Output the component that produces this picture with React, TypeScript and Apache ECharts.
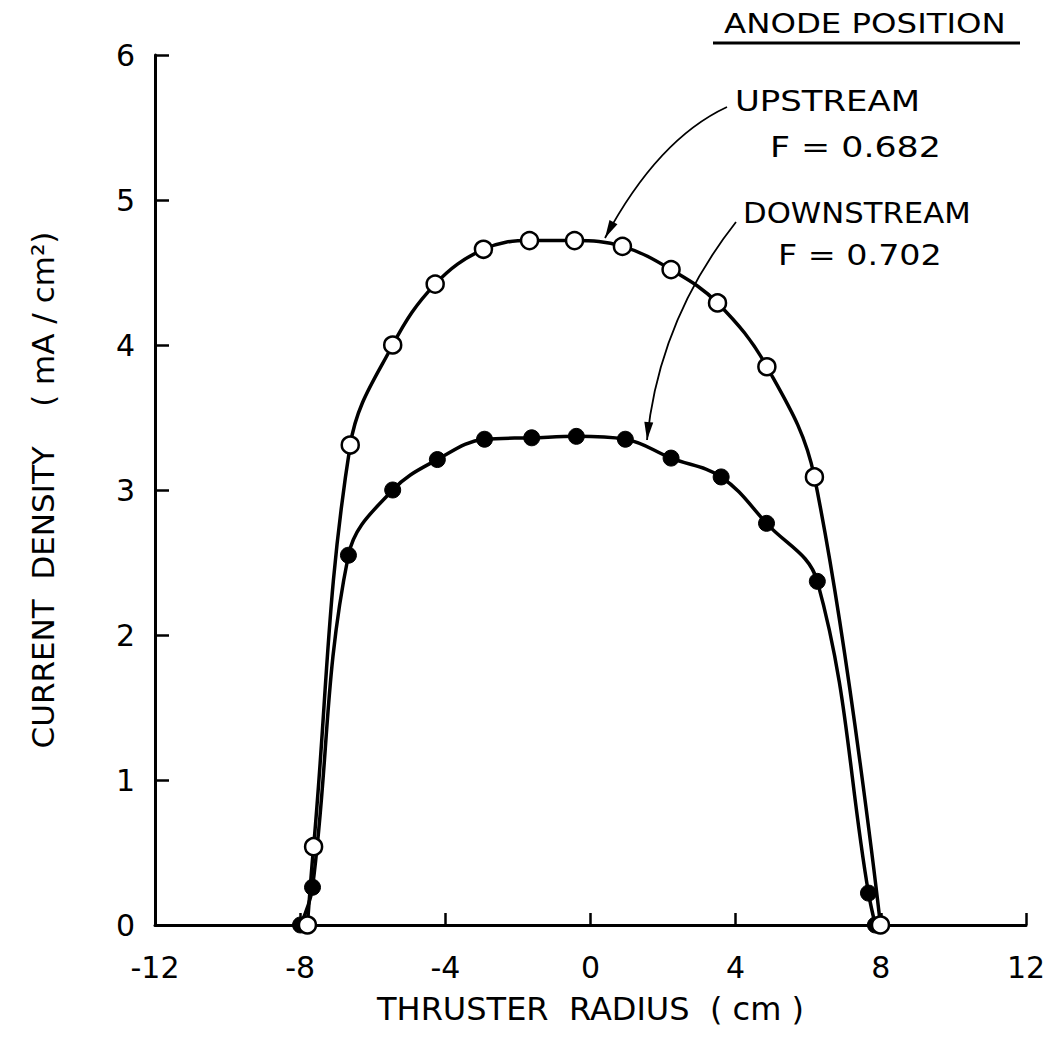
import React, { useEffect, useRef } from "react";
import * as echarts from "echarts";

// ---- data ----
const upstreamX = [-7.8, -7.63, -6.62, -5.45, -4.28, -2.95, -1.68, -0.44, 0.88, 2.22, 3.5, 4.86, 6.17, 7.99];
const upstreamY = [0, 0.54, 3.31, 4.0, 4.42, 4.66, 4.72, 4.72, 4.68, 4.52, 4.29, 3.85, 3.09, 0];

const downstreamX = [-7.99, -7.66, -6.67, -5.45, -4.22, -2.92, -1.62, -0.39, 0.96, 2.22, 3.6, 4.85, 6.25, 7.66, 7.85];
const downstreamY = [0, 0.26, 2.55, 3.0, 3.21, 3.35, 3.36, 3.37, 3.35, 3.22, 3.09, 2.77, 2.37, 0.22, 0];

const xTicks = { min: -12, max: 12, interval: 4 };
const yTicks = { min: 0, max: 6, interval: 1 };

const FONT = "DejaVu Sans";

function arrowHead(tip: number[], ctrl: number[], len: number, halfW: number) {
  const dx = tip[0] - ctrl[0];
  const dy = tip[1] - ctrl[1];
  const d = Math.sqrt(dx * dx + dy * dy);
  const ux = dx / d, uy = dy / d;
  const bx = tip[0] - ux * len, by = tip[1] - uy * len;
  return [
    [tip[0], tip[1]],
    [bx - uy * halfW, by + ux * halfW],
    [bx + uy * halfW, by - ux * halfW],
  ];
}

export default function App() {
  const ref = useRef<HTMLDivElement>(null);
  useEffect(() => {
    const chart = echarts.init(ref.current!, null, { renderer: "svg" });
    const up = upstreamX.map((x, i) => [x, upstreamY[i]]);
    const down = downstreamX.map((x, i) => [x, downstreamY[i]]);

    const upArrow = { p0: [727, 107], c: [658, 139], p2: [605, 238] };
    const downArrow = { p0: [736, 222], c: [659, 320], p2: [647, 440] };

    const textStyle = (fontSize: number) => ({ fill: "#000", fontSize, fontFamily: FONT });

    chart.setOption({
      animation: false,
      backgroundColor: "#fff",
      grid: { left: 155, right: 26, top: 55, bottom: 114 },
      xAxis: {
        type: "value",
        ...xTicks,
        name: "THRUSTER  RADIUS  ( cm )",
        nameLocation: "middle",
        nameGap: 68,
        nameTextStyle: { color: "#000", fontSize: 32, fontFamily: FONT },
        axisLine: { onZero: false, lineStyle: { color: "#000", width: 3 } },
        axisTick: { inside: true, length: 12, lineStyle: { color: "#000", width: 2.5 } },
        axisLabel: { color: "#000", fontSize: 30, fontFamily: FONT, margin: 27 },
        splitLine: { show: false },
      },
      yAxis: {
        type: "value",
        ...yTicks,
        name: "CURRENT  DENSITY    ( mA / cm²)",
        nameLocation: "middle",
        nameGap: 97,
        nameRotate: 90,
        nameTextStyle: { color: "#000", fontSize: 31, fontFamily: FONT },
        axisLine: { onZero: false, lineStyle: { color: "#000", width: 3 } },
        axisTick: { inside: true, length: 14, lineStyle: { color: "#000", width: 2.5 } },
        axisLabel: { color: "#000", fontSize: 30, fontFamily: FONT, margin: 20 },
        splitLine: { show: false },
      },
      series: [
        {
          name: "DOWNSTREAM",
          type: "line",
          data: down,
          smooth: 0.38,
          symbol: "circle",
          symbolSize: 16,
          lineStyle: { color: "#000", width: 3.5 },
          itemStyle: { color: "#000", borderColor: "#000", borderWidth: 1 },
          z: 3,
        },
        {
          name: "UPSTREAM",
          type: "line",
          data: up,
          smooth: 0.38,
          symbol: "circle",
          symbolSize: 17,
          lineStyle: { color: "#000", width: 3.5 },
          itemStyle: { color: "#fff", borderColor: "#000", borderWidth: 2.5 },
          z: 4,
        },
      ],
      graphic: [
        { type: "text", left: 724, top: 10, scaleX: 1.2, style: { text: "ANODE POSITION", ...textStyle(27) } },
        { type: "line", shape: { x1: 713, y1: 43, x2: 1020, y2: 43 }, style: { stroke: "#000", lineWidth: 3 } },
        { type: "text", left: 735, top: 86, scaleX: 1.17, style: { text: "UPSTREAM", ...textStyle(29) } },
        { type: "text", left: 770, top: 133, scaleX: 1.2, style: { text: "F = 0.682", ...textStyle(29) } },
        { type: "text", left: 743, top: 198, scaleX: 1.06, style: { text: "DOWNSTREAM", ...textStyle(29) } },
        { type: "text", left: 778, top: 240, scaleX: 1.15, style: { text: "F = 0.702", ...textStyle(29) } },
        {
          type: "bezierCurve",
          shape: { x1: upArrow.p0[0], y1: upArrow.p0[1], cpx1: upArrow.c[0], cpy1: upArrow.c[1], x2: upArrow.p2[0], y2: upArrow.p2[1] },
          style: { stroke: "#000", lineWidth: 1.8, fill: null },
        },
        {
          type: "polygon",
          shape: { points: arrowHead(upArrow.p2, upArrow.c, 18, 4.5) },
          style: { fill: "#000" },
        },
        {
          type: "bezierCurve",
          shape: { x1: downArrow.p0[0], y1: downArrow.p0[1], cpx1: downArrow.c[0], cpy1: downArrow.c[1], x2: downArrow.p2[0], y2: downArrow.p2[1] },
          style: { stroke: "#000", lineWidth: 1.8, fill: null },
        },
        {
          type: "polygon",
          shape: { points: arrowHead(downArrow.p2, downArrow.c, 18, 4.5) },
          style: { fill: "#000" },
        },
      ],
    });
    return () => chart.dispose();
  }, []);
  return (
    <div
      ref={ref}
      style={{ position: "absolute", left: 0, top: 0, width: 1052, height: 1039, background: "#fff" }}
    />
  );
}
